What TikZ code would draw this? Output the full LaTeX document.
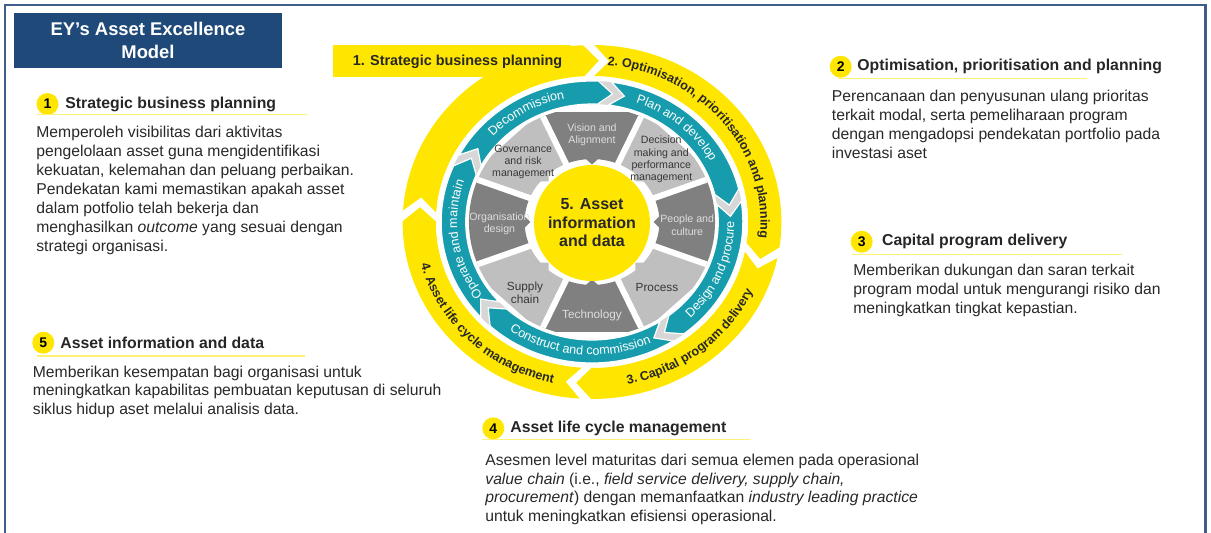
\documentclass[tikz,border=0pt]{standalone}
\usepackage{fontspec}
\setmainfont{Liberation Sans}
\usepackage{xcolor}
\usetikzlibrary{decorations.text}

\definecolor{eyyellow}{RGB}{255,230,0}
\definecolor{eyteal}{RGB}{22,156,172}
\definecolor{eynavy}{RGB}{31,73,120}
\definecolor{eyframe}{RGB}{62,95,135}
\definecolor{gapgray}{RGB}{215,215,215}
\definecolor{segdark}{RGB}{128,128,128}
\definecolor{seglight}{RGB}{191,191,191}
\definecolor{segpale}{RGB}{222,222,222}
\definecolor{segink}{RGB}{55,55,55}
\definecolor{bodytext}{RGB}{40,40,40}

% ring piece: style, from, to, r in, r out, tip
\newcommand{\ringarrow}[6]{%
  \path[#1] (#2:#5) arc[start angle=#2, end angle=#3, radius=#5]
    -- ({#3-#6}:{(#4+#5)/2}) -- (#3:#4) arc[start angle=#3, end angle=#2, radius=#4]
    -- ({#2-#6}:{(#4+#5)/2}) -- cycle;}
% octagon piece: mid angle, colour
\newcommand{\wheelpart}[2]{%
  \fill[#2] ({1.055*119*cos(#1+22.5)},{119*sin(#1+22.5)})
    -- ({1.055*119*cos(#1-22.5)},{119*sin(#1-22.5)}) -- ({#1-22.5}:63)
    arc[start angle={#1-22.5}, end angle={#1-5}, radius=63] -- (#1:57.5)
    -- ({#1+5}:63) arc[start angle={#1+5}, end angle={#1+22.5}, radius=63] -- cycle;}
% text on a ring: radius, from, to, text
\newcommand{\arctext}[4]{%
  \path[decorate, decoration={text along path, text align=center, text={#4}}]
    (#2:#1) arc[start angle=#2, end angle=#3, radius=#1];}

\begin{document}
\begin{tikzpicture}[x=0.5pt,y=0.5pt,
  bodytxt/.style={anchor=north west,align=left,inner sep=0,text=bodytext,font=\fontsize{7.85}{9.5}\selectfont},
  headtxt/.style={anchor=west,inner sep=0,text=black!85,font=\fontsize{7.9}{9.5}\selectfont\bfseries},
  numdot/.style={circle,fill=eyyellow,inner sep=0,minimum size=11pt,font=\fontsize{7}{8}\selectfont\bfseries},
  headline/.style={draw=eyyellow!55,line width=0.8pt},
  segtxt/.style={align=center,inner sep=0,font=\fontsize{5.3}{6.2}\selectfont},
  tealarrow/.style={fill=eyteal,draw=white,line width=0.6pt}]
  \useasboundingbox (0,0) rectangle (1211,-532);
  % frame and title
  \draw[eyframe,line width=1.2pt] (5,-5) rectangle (1205.5,-560);
  \fill[eynavy] (14,-13) rectangle (282,-68);
  \node[text=white,align=center,font=\fontsize{9.2}{11.5}\selectfont\bfseries] (title) at (148,-40.5) {EY’s Asset Excellence\\Model};
  % 1
  \node[numdot] (n1) at (47.5,-104) {1};
  \node[headtxt] (h1) at (65,-104) {Strategic business planning};
  \draw[headline] (37,-114.5) -- (307,-114.5);
  \node[bodytxt] (b1) at (36,-125.5) {Memperoleh visibilitas dari aktivitas\\pengelolaan asset guna mengidentifikasi\\kekuatan, kelemahan dan peluang perbaikan.\\Pendekatan kami memastikan apakah asset\\dalam potfolio telah bekerja dan\\menghasilkan \textit{outcome} yang sesuai dengan\\strategi organisasi.};
  % 2
  \node[numdot] (n2) at (840.7,-66.7) {2};
  \node[headtxt] (h2) at (857,-66.7) {Optimisation, prioritisation and planning};
  \draw[headline] (838,-78.3) -- (1086.7,-78.3);
  \node[bodytxt] (b2) at (831.5,-89.8) {Perencanaan dan penyusunan ulang prioritas\\terkait modal, serta pemeliharaan program\\dengan mengadopsi pendekatan portfolio pada\\investasi aset};
  % 3
  \node[numdot] (n3) at (861.7,-241.7) {3};
  \node[headtxt] (h3) at (881.7,-241.7) {Capital program delivery};
  \draw[headline] (851.7,-254.3) -- (1121.7,-254.3);
  \node[bodytxt] (b3) at (853,-264.2) {Memberikan dukungan dan saran terkait\\program modal untuk mengurangi risiko dan\\meningkatkan tingkat kepastian.};
  % 5
  \node[numdot] (n5) at (43.3,-342.7) {5};
  \node[headtxt] (h5) at (60,-342.7) {Asset information and data};
  \draw[headline] (36.7,-356) -- (305,-356);
  \node[bodytxt,font=\fontsize{7.85}{9.2}\selectfont] (b5) at (32.5,-365.8) {Memberikan kesempatan bagi organisasi untuk\\meningkatkan kapabilitas pembuatan keputusan di seluruh\\siklus hidup aset melalui analisis data.};
  % 4
  \node[numdot] (n4) at (493.3,-428.3) {4};
  \node[headtxt] (h4) at (510,-428.3) {Asset life cycle management};
  \draw[headline] (481.7,-439.3) -- (750,-439.3);
  \node[bodytxt,font=\fontsize{7.85}{9.2}\selectfont] (b4) at (485,-454.2) {Asesmen level maturitas dari semua elemen pada operasional\\\textit{value chain} (i.e., \textit{field service delivery, supply chain,}\\\textit{procurement}) dengan memanfaatkan \textit{industry leading practice}\\untuk meningkatkan efisiensi operasional.};
  % wheel
  \begin{scope}[shift={(592,-222)},xscale=1.07]
  \fill[eyyellow] (-242,145) rectangle (-20,177);
  \ringarrow{fill=eyyellow}{176.25}{92.75}{146}{177}{5}
  \ringarrow{fill=eyyellow}{89.25}{-8.25}{146}{177}{5}
  \ringarrow{fill=eyyellow}{-11.75}{-90.25}{146}{177}{5}
  \ringarrow{fill=eyyellow}{266.25}{179.75}{146}{177}{5}
  \fill[gapgray,even odd rule] (0,0) circle[radius=141] (0,0) circle[radius=118];
  \ringarrow{tealarrow}{151.5}{87.5}{118}{141}{6}
  \ringarrow{tealarrow}{82.5}{13.5}{118}{141}{6}
  \ringarrow{tealarrow}{8.5}{-52.5}{118}{141}{6}
  \ringarrow{tealarrow}{-57.5}{-132.5}{118}{141}{6}
  \ringarrow{tealarrow}{222.5}{156.5}{118}{141}{6}
  \begin{scope}
  \clip (0,0) circle[radius=115];
  \foreach \a/\c in {90/segdark,45/seglight,0/segdark,-45/seglight,-90/segdark,-135/seglight,180/segdark,135/seglight}
    \wheelpart{\a}{\c};
  \foreach \a in {22.5,67.5,...,337.5}
    \draw[white,line width=3pt] (\a:60) -- ({1.055*125*cos(\a)},{125*sin(\a)});
  \end{scope}
  \node[circle,fill=eyyellow,minimum size=58pt,inner sep=0,align=center,text=bodytext,
    font=\fontsize{8}{9.25}\selectfont\bfseries] (core) at (0,-1) {5. Asset\\information\\and data};
  \node[segtxt,text=segpale] (vision) at (90:87) {Vision and\\Alignment};
  \node[segtxt,text=segink] (decision) at (44:90) {Decision\\making and\\performance\\management};
  \node[segtxt,text=segpale] (people) at (-2:89) {People and\\culture};
  \node[segtxt,text=segink,font=\fontsize{5.9}{6.4}\selectfont] (process) at (-47:89) {Process};
  \node[segtxt,text=segpale,font=\fontsize{5.9}{6.4}\selectfont] (techno) at (-90:93) {Technology};
  \node[segtxt,text=segink,font=\fontsize{5.9}{6.4}\selectfont] (supply) at (228.6:94.7) {Supply\\chain};
  \node[segtxt,text=segpale] (orgdesign) at (181:86.5) {Organisation\\design};
  \node[segtxt,text=segink] (governance) at (137:88) {Governance\\and risk\\management};
  % ring texts
  \arctext{126}{160}{80}{|\fontsize{6.3}{7}\selectfont\color{white}|Decommission}
  \arctext{126}{89.2}{9.2}{|\fontsize{6.3}{7}\selectfont\color{white}|Plan and develop}
  \arctext{126}{228.4}{148.4}{|\fontsize{6.3}{7}\selectfont\color{white}|Operate and maintain}
  \arctext{133}{-62.6}{17.4}{|\fontsize{6.3}{7}\selectfont\color{white}|Design and procure}
  \arctext{133}{224.5}{304.5}{|\fontsize{6.3}{7}\selectfont\color{white}|Construct and commission}
  \arctext{157.5}{89.3}{-10.7}{|\fontsize{6.3}{7}\selectfont\bfseries\color{bodytext}|2. Optimisation, prioritisation and planning}
  \arctext{165.5}{-100.8}{-0.8}{|\fontsize{6.3}{7}\selectfont\bfseries\color{bodytext}|3. Capital program delivery}
  \arctext{165.5}{175.5}{275.5}{|\fontsize{6.3}{7}\selectfont\bfseries\color{bodytext}|4. Asset life cycle management}
  \end{scope}
  \node[text=bodytext,font=\fontsize{7.2}{8}\selectfont\bfseries] (band1) at (457.5,-62) {1. Strategic business planning};
\end{tikzpicture}
\end{document}
